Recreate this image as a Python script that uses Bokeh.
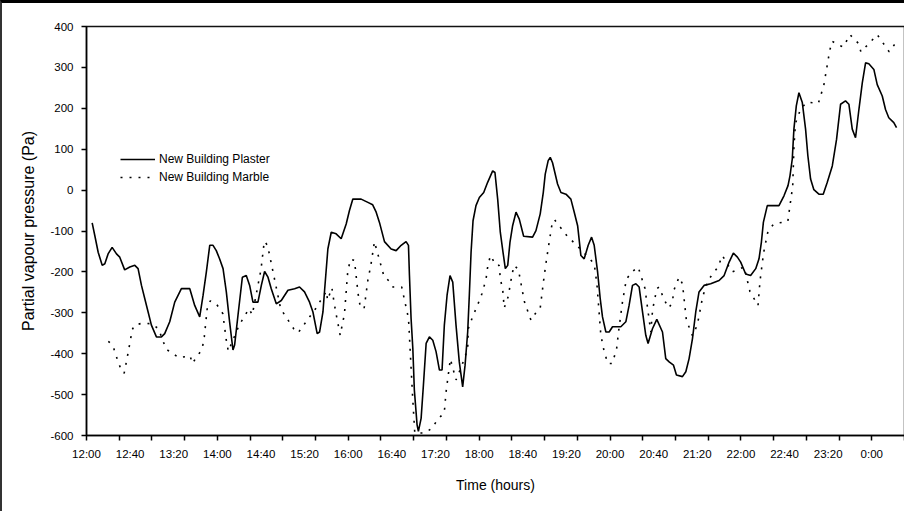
from bokeh.plotting import figure
from bokeh.models import Range1d, FixedTicker, Legend, LegendItem
from bokeh.embed import file_html
from bokeh.resources import INLINE

# ---- axis ticks / labels ----
x_label_minutes = [0, 40, 80, 120, 160, 200, 240, 280, 320, 360, 400, 440, 480, 520, 560, 600, 640, 680, 720]
x_tick_labels = ["12:00", "12:40", "13:20", "14:00", "14:40", "15:20", "16:00", "16:40", "17:20", "18:00",
                 "18:40", "19:20", "20:00", "20:40", "21:20", "22:00", "22:40", "23:20", "0:00"]
x_tick_minutes = [0, 30, 60, 90, 120, 150, 180, 210, 240, 270, 300, 330, 360, 390, 420, 450, 480, 510,
                  540, 570, 600, 630, 660, 690, 720, 750]
y_ticks = [-600, -500, -400, -300, -200, -100, 0, 100, 200, 300, 400]
y_tick_labels = ["-600", "-500", "-400", "-300", "-200", "-100", "0", "100", "200", "300", "400"]

# ---- series: minutes after 12:00, partial vapour pressure difference (Pa) ----
plaster_min = [5.2, 7.6, 10.7, 14.4, 16.8, 19.8, 23.5, 27.5, 30.5, 35, 39.7, 44.3, 47.3, 50.4, 53.4, 56.5,
               59.5, 64.1, 68.7, 71.7, 76.3, 80.9, 87, 94.7, 99.2, 103.8, 106.9, 109.9, 113, 116, 119, 122,
               125.2, 128.2, 131.2, 134.3, 135.8, 138.9, 142.9, 146.5, 149.6, 152.6, 157.2, 160.3, 163.3,
               166.4, 169.4, 174, 178.6, 184.7, 190.8, 195.3, 199.9, 204.5, 207.6, 211.5, 213.7, 216.8,
               218.3, 221.3, 224.4, 228.9, 233.5, 238.1, 241.1, 244.2, 251.8, 258, 262.4, 265.6, 268.6,
               273.2, 279.3, 283.9, 288.5, 293, 295.2, 296.1, 297.6, 299.2, 300.6, 303.1, 304.3, 306.8,
               308.9, 311.4, 314.4, 317.5, 320.5, 323.6, 326, 328.1, 330.6, 333.3, 335.8, 338.8, 341.8,
               344.9, 347.1, 349.5, 351, 352.6, 354.4, 357.1, 360.2, 364.2, 367.8, 372.4, 374.5, 377,
               379.4, 381.9, 384, 386.2, 388.3, 390.7, 393.8, 396.8, 400.8, 409, 412.1, 416, 418.8,
               420.6, 423.3, 425.2, 427.3, 431.9, 435, 439.6, 444.1, 447.2, 450.3, 453.3, 456.3, 460,
               463.1, 465.5, 468.6, 471, 473.1, 476.2, 479.2, 482.3, 489.9, 494.5, 497.5, 500.6, 503.7,
               506.7, 509.8, 512.8, 514.9, 518.9, 522.9, 528.1, 531.1, 534.2, 538.2, 540.9, 546.4,
               549.5, 552.5, 555.6, 558.6, 561.6, 566.2, 572.3, 580, 584.6, 589.2, 593.1, 596.8, 599.8,
               604.4, 608.9, 613.6, 616.6, 618.8, 620.6, 624.2, 634.9, 639.5, 643.2, 645, 647.1, 648.6,
               650.8, 653.2, 656.3, 659.3, 661.4, 663.9, 666.9, 671.5, 675.5, 679.2, 683.8, 687.7,
               691.4, 695.9, 699, 702.1, 705.1, 708.2, 711.3, 714.3, 717.3, 721.9, 725, 729.6, 732.6,
               735.6, 740.2, 742.7]
plaster_pa = [-80, -111, -152, -184, -180, -156, -140, -156, -164, -195, -188, -184, -192, -233, -265, -298,
              -330, -359, -359, -351, -322, -274, -241, -241, -282, -310, -257, -200, -135, -135, -148, -168,
              -192, -249, -322, -391, -379, -306, -213, -209, -233, -274, -274, -233, -199,
              -213, -241, -278, -270, -245, -241, -237, -249, -274, -298, -351, -347, -298,
              -245, -144, -103, -107, -119, -83, -50, -22, -22, -30, -36, -54, -79,
              -126, -144, -148, -135, -126, -135, -208, -314, -387, -489, -574, -590, -558,
              -477, -375, -359, -367, -395, -440, -440, -330, -257, -209, -225, -330, -420,
              -481, -428, -347, -257, -152, -75, -38, -18, -6, 19, 47, 43, -22,
              -103, -152, -192, -184, -127, -87, -54, -71, -113, -115, -99, -58, -6,
              39, 72, 80, 67, 15, -6, -10, -22, -54, -87, -160, -168, -135,
              -115, -135, -200, -265, -310, -347, -347, -334, -334, -322, -282, -233, -229,
              -237, -298, -355, -375, -339, -316, -347, -412, -420, -428, -452, -456,
              -444, -412, -363, -298, -249, -233, -229, -221, -209, -176, -154, -164, -176,
              -205, -209, -192, -168, -127, -79, -38, -38, -14, 11, 35, 76, 149,
              206, 238, 214, 149, 84, 27, 1, -10, -10, 19, 59, 124,
              210, 218, 210, 149, 128, 197, 262, 311, 309, 295, 258, 230, 197,
              177, 165, 153]

marble_min = [20, 23.5, 25, 29, 31, 34.5, 38, 42, 44, 52, 60, 63, 66, 73, 85, 95, 97, 106, 108, 111, 113.5,
              119, 125, 128, 130, 140, 149, 152, 160, 163, 166, 178, 190, 194, 210, 220, 221, 225, 227,
              229.5, 232.6, 234, 236.5, 239.5, 242, 245.7, 249, 251, 254.5, 258, 260.7, 264, 271.6, 273,
              278, 281, 289, 294.6, 295.5, 297, 299, 301, 310, 317, 322, 328, 329.7, 333.6, 338.8, 344,
              349.5, 350, 354, 361, 362.6, 366.3, 367.8, 370.3, 375.5, 378.3, 379.5, 381.6, 383, 386.7,
              388.6, 390.7, 392, 396, 401.4, 403.5, 407.5, 412, 416, 419.5, 421, 423, 427, 429, 440, 455,
              465.5, 468, 471.6, 474.6, 478, 482, 486, 487.8, 490, 491.5, 495, 500, 505.8, 512, 517.4,
              519, 520.5, 523, 525, 530, 534, 537, 538.8, 543.3, 546.4, 548, 550, 555.6, 560, 565, 570,
              579, 583, 592, 603, 608.3, 615.7, 617.5, 619.7, 621.2, 624.8, 630, 635, 643, 645, 647.5,
              648.6, 650, 655, 660.8, 671, 676, 681.5, 683.7, 689, 694, 700, 708, 710, 718, 725, 736, 742]
marble_pa = [-370, -378, -387, -420, -434, -448, -400, -341, -330, -325, -327, -333, -339, -389, -410, -405,
             -424, -389, -359, -281, -271, -278, -302, -364, -394, -330, -290, -305, -194, -125, -135, -290,
             -339, -349, -290, -247, -269, -239, -275, -312, -355, -336, -303, -200, -169, -172, -253, -286,
             -290, -220, -184, -126, -200, -213, -223, -237, -237, -306, -326, -405, -505, -594, -594, -582,
             -560, -545, -493, -413, -464, -430, -389, -339, -310, -265, -253, -218, -188, -160, -184, -184,
             -218, -243, -288, -260, -229, -200, -184, -194, -272, -288, -318, -300, -288, -213, -184, -148,
             -80, -72, -110, -150, -180, -230, -355, -394, -424, -424, -389, -347, -302, -272, -218, -200,
             -188, -240, -347, -294, -272, -241, -237, -270, -288, -275, -243, -213, -229, -268, -318, -356,
             -330, -260, -220, -188, -160, -200, -188, -248, -282, -223, -176, -148, -101, -83, -80, -77, -38,
             10, 104, 163, 200, 215, 212, 256, 342, 364, 355, 350, 380, 358, 338, 360, 380, 338, 360]

FONT = "Liberation Sans"

p = figure(width=904, height=511,
           x_range=Range1d(0, 750), y_range=Range1d(-600, 400),
           output_backend="svg", toolbar_location=None,
           min_border_left=84, min_border_right=2, min_border_top=23, min_border_bottom=79)
p.styles = {"border-top": "3px solid black", "border-left": "2px solid #333333"}

p.xgrid.visible = False
p.ygrid.visible = False
p.background_fill_color = "white"
p.border_fill_color = "white"
p.outline_line_color = "#111111"
p.outline_line_width = 1.5

r_plaster = p.line(plaster_min, plaster_pa, line_color="black", line_width=1.6)
r_marble = p.line(marble_min, marble_pa, line_color="black", line_width=1.6, line_dash="2 7")

# x axis: tick marks every 30 min, labels every 40 min
xa = p.xaxis[0]
xa.ticker = FixedTicker(ticks=x_label_minutes, minor_ticks=x_tick_minutes)
xa.major_label_overrides = {m: s for m, s in zip(x_label_minutes, x_tick_labels)}
xa.major_tick_out = 0
xa.major_tick_in = 0
xa.minor_tick_out = 5
xa.minor_tick_in = 0
xa.minor_tick_line_color = "black"
xa.minor_tick_line_width = 1.5
xa.axis_line_color = "black"
xa.axis_line_width = 1.5
xa.major_label_standoff = 7
xa.major_label_text_font = FONT
xa.major_label_text_font_size = "11.5px"
xa.major_label_text_color = "black"
xa.axis_label = "Time (hours)"
xa.axis_label_text_font = FONT
xa.axis_label_text_font_size = "14px"
xa.axis_label_text_font_style = "normal"
xa.axis_label_text_color = "black"
xa.axis_label_standoff = 14

ya = p.yaxis[0]
ya.ticker = FixedTicker(ticks=y_ticks, minor_ticks=[])
ya.major_label_overrides = {v: s for v, s in zip(y_ticks, y_tick_labels)}
ya.major_tick_out = 5
ya.major_tick_in = 0
ya.major_tick_line_color = "black"
ya.major_tick_line_width = 1.5
ya.minor_tick_out = 0
ya.minor_tick_in = 0
ya.axis_line_color = "black"
ya.axis_line_width = 1.5
ya.major_label_standoff = 8
ya.major_label_text_font = FONT
ya.major_label_text_font_size = "11.5px"
ya.major_label_text_color = "black"
ya.axis_label = "Partial vapour pressure (Pa)"
ya.axis_label_text_font = FONT
ya.axis_label_text_font_size = "16px"
ya.axis_label_text_font_style = "normal"
ya.axis_label_text_color = "black"
ya.axis_label_standoff = 10

legend = Legend(items=[LegendItem(label="New Building Plaster", renderers=[r_plaster]),
                       LegendItem(label="New Building Marble", renderers=[r_marble])],
                location=(34, 249))
legend.border_line_color = None
legend.background_fill_alpha = 0
legend.padding = 0
legend.margin = 0
legend.spacing = 0
legend.glyph_width = 35
legend.glyph_height = 18
legend.label_height = 18
legend.label_standoff = 4
legend.label_text_font = FONT
legend.label_text_font_size = "12px"
legend.label_text_color = "black"
p.add_layout(legend)

open("out.html", "w").write(file_html(p, INLINE))
